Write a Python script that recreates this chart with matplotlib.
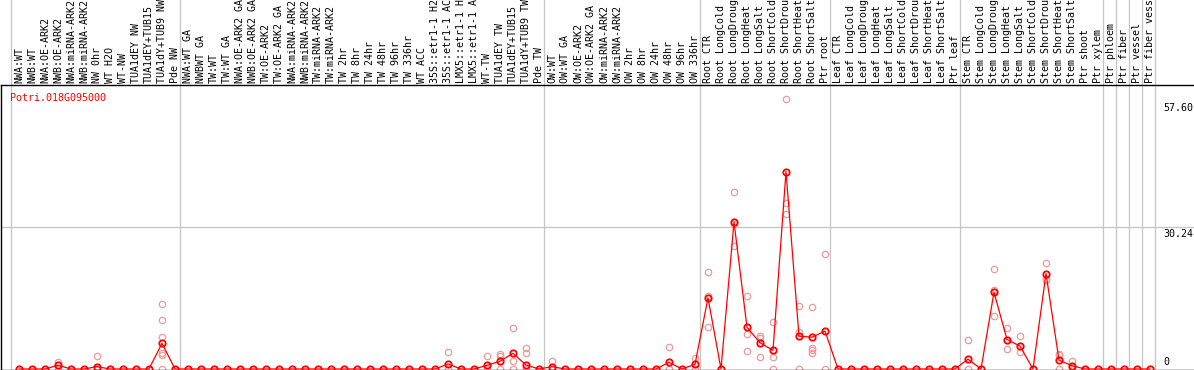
import matplotlib
matplotlib.use("Agg")
import matplotlib.pyplot as plt
import matplotlib.transforms as mtransforms

GENE_ID = "Potri.018G095000"

LABELS = [
    "NWA:WT", "NWB:WT", "NWA:OE-ARK2", "NWB:OE-ARK2", "NWA:miRNA-ARK2", "NWB:miRNA-ARK2",
    "NW 0hr", "WT H2O", "WT-NW", "TUA1dEY NW", "TUA1dEY+TUB15", "TUA1dY+TUB9 NW", "Pde NW",
    "NWA:WT GA", "NWBWT GA", "TW:WT", "TW:WT GA", "NWA:OE-ARK2 GA", "NWB:OE-ARK2 GA",
    "TW:OE-ARK2", "TW:OE-ARK2 GA", "NWA:miRNA-ARK2", "NWB:miRNA-ARK2", "TW:miRNA-ARK2",
    "TW:miRNA-ARK2", "TW 2hr", "TW 8hr", "TW 24hr", "TW 48hr", "TW 96hr", "TW 336hr",
    "WT ACC", "35S::etr1-1 H2", "35S::etr1-1 AC", "LMX5::etr1-1 H", "LMX5::etr1-1 A",
    "WT-TW", "TUA1dEY TW", "TUA1dEY+TUB15", "TUA1dY+TUB9 TW", "Pde TW",
    "OW:WT", "OW:WT GA", "OW:OE-ARK2", "OW:OE-ARK2 GA", "OW:miRNA-ARK2", "OW:miRNA-ARK2",
    "OW 2hr", "OW 8hr", "OW 24hr", "OW 48hr", "OW 96hr", "OW 336hr",
    "Root CTR", "Root LongCold", "Root LongDroug", "Root LongHeat", "Root LongSalt",
    "Root ShortCold", "Root ShortDrou", "Root ShortHeat", "Root ShortSalt", "Ptr root",
    "Leaf CTR", "Leaf LongCold", "Leaf LongDroug", "Leaf LongHeat", "Leaf LongSalt",
    "Leaf ShortCold", "Leaf ShortDrou", "Leaf ShortHeat", "Leaf ShortSalt", "Ptr leaf",
    "Stem CTR", "Stem LongCold", "Stem LongDroug", "Stem LongHeat", "Stem LongSalt",
    "Stem ShortCold", "Stem ShortDrou", "Stem ShortHeat", "Stem ShortSalt", "Ptr shoot",
    "Ptr xylem", "Ptr phloem", "Ptr fiber", "Ptr vessel", "Ptr fiber vess",
]

# nonzero means (column index -> mean), everything else is 0
MEAN_NONZERO = {
    3: 0.8, 6: 0.5, 11: 5.5, 33: 1.07, 36: 0.8, 37: 1.65, 38: 3.35, 39: 0.85,
    41: 0.5, 50: 1.43, 52: 1.0, 53: 15.2, 55: 31.4, 56: 8.9, 57: 5.6, 58: 4.0,
    59: 42.2, 60: 7.0, 61: 6.8, 62: 8.1, 73: 2.1, 75: 16.4, 76: 6.3, 77: 4.9,
    79: 20.4, 80: 1.9, 81: 0.7,
}

# replicate samples
SAMPLES = {
    3: [1.6, 0], 6: [2.8, 0], 11: [13.9, 10.4, 6.9, 3.5, 2.9, 0],
    33: [3.6, 0], 36: [2.8, 0], 37: [3.2, 2.8, 0], 38: [8.7, 1.7, 0],
    39: [4.4, 3.35, 0], 41: [1.7, 0], 50: [4.7, 0], 52: [2.3, 0],
    53: [20.7, 15.7, 8.9], 55: [37.9, 30.9, 26.2], 56: [15.7, 7.4, 3.9],
    57: [7.0, 6.7, 2.6], 58: [10.1, 2.6, 0], 59: [57.6, 35.5, 33.2],
    60: [13.5, 8.0, 0], 61: [13.2, 4.5, 4.06, 3.4], 62: [24.6, 0],
    73: [6.3, 0], 75: [21.3, 16.9, 11.3], 76: [8.8, 4.3, 6.3],
    77: [7.1, 3.7, 4.9], 79: [22.6, 19.3, 19.0], 80: [3.2, 2.9, 0], 81: [1.8, 0],
}

GROUP_STARTS = [0, 13, 41, 53, 63, 73, 84, 85, 86, 87, 88]
YTICKS = [57.60, 30.24, 0]

W, H, DPI = 1194, 370, 100
PX_PER_UNIT = 4.68
ZERO_PX = 369          # pixel row of value 0 (from top)
TOP_PX = 85            # top of plot area
X0_PX, STEP_PX = 19, 13.0
GRAY = "#c4c4c4"
PINK = "#ee9a9a"
FONT = "DejaVu Sans Mono"
FS = 7.2


def main() -> None:
    n = len(LABELS)
    xs = list(range(n))
    means = [MEAN_NONZERO.get(i, 0.0) for i in xs]

    fig = plt.figure(figsize=(W / DPI, H / DPI), dpi=DPI)
    left_px = 1
    ax = fig.add_axes([left_px / W, 0, (W - left_px) / W, (H - TOP_PX) / H])
    ax.set_xlim((left_px - X0_PX) / STEP_PX, (W - X0_PX) / STEP_PX)
    ax.set_ylim((ZERO_PX - H) / PX_PER_UNIT, (ZERO_PX - TOP_PX) / PX_PER_UNIT)
    ax.set_xticks([])
    ax.set_yticks([])
    for side in ["left", "bottom", "top"]:
        ax.spines[side].set_color("black")
        ax.spines[side].set_linewidth(1.0)
    ax.spines["right"].set_visible(False)

    # grid
    ax.axhline(30.24, color=GRAY, linewidth=0.9, zorder=1)
    extend = H / (H - TOP_PX)
    for g in GROUP_STARTS:
        ax.axvline(g - 0.6, ymin=0, ymax=extend, color=GRAY, linewidth=0.9,
                   clip_on=False, zorder=1)

    # replicates
    for i, vals in SAMPLES.items():
        ax.plot([i] * len(vals), vals, linestyle="none", marker="o", markersize=4.6,
                markerfacecolor="none", markeredgecolor=PINK, markeredgewidth=0.9,
                zorder=2, clip_on=False)

    # mean line
    ax.plot(xs, means, color="red", linewidth=0.9, marker="o", markersize=4.6,
            markerfacecolor="none", markeredgecolor="red", markeredgewidth=1.3,
            zorder=3, clip_on=False)

    # column labels above the box
    trans = mtransforms.blended_transform_factory(ax.transData, ax.transAxes)
    for i, lab in enumerate(LABELS):
        ax.text(i, 1 + 2 / (H - TOP_PX), lab, transform=trans, rotation=90,
                ha="center", va="bottom", fontsize=FS, family=FONT, clip_on=False)

    # gene id
    ax.text((10 - X0_PX) / STEP_PX, 57.3, GENE_ID, color="red", fontsize=FS,
            family=FONT, ha="left", va="baseline")

    # value labels on the right
    xlab = (1163 - X0_PX) / STEP_PX
    ax.text(xlab, 56.9, f"{YTICKS[0]:.2f}", fontsize=FS, family=FONT, ha="left", va="top")
    ax.text(xlab, 29.9, f"{YTICKS[1]:.2f}", fontsize=FS, family=FONT, ha="left", va="top")
    ax.text(xlab, 0.85, "0", fontsize=FS, family=FONT, ha="left", va="baseline")

    fig.savefig("out.png", dpi=DPI)


if __name__ == "__main__":
    main()
